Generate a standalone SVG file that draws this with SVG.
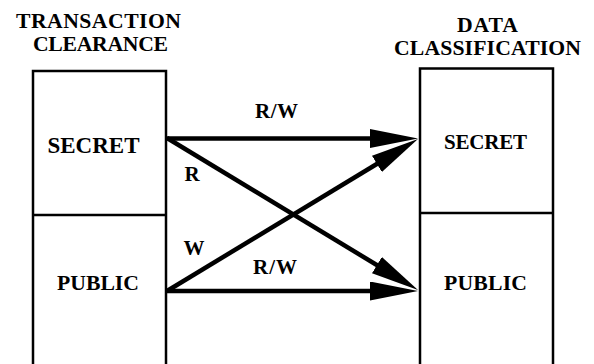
<svg xmlns="http://www.w3.org/2000/svg" width="594" height="364" viewBox="0 0 594 364">
<style>
.box{fill:#fff;stroke:#000;stroke-width:2.5}
.div{stroke:#000;stroke-width:2.5}
.t{font-family:"Liberation Serif","Times New Roman",serif;font-weight:bold;fill:#000}
.title{font-size:21.7px}
.lbl{font-size:21.7px}
.el{font-size:21px}
.conn{stroke:#000;stroke-width:4.5;fill:none}
</style>
<defs>
<marker id="ah" markerUnits="userSpaceOnUse" markerWidth="48" markerHeight="19" viewBox="0 0 48 19" refX="23" refY="9.5" orient="auto">
<path d="M0,0 L48,9.5 L0,19 Z" fill="#000"/>
</marker>
</defs>
<rect width="594" height="364" fill="#fff"/>
<g id="transaction-clearance">
<text class="t title" x="98.5" y="28" text-anchor="middle" textLength="165">TRANSACTION</text>
<text class="t title" x="100.5" y="50.5" text-anchor="middle" textLength="135">CLEARANCE</text>
<rect class="box" x="33" y="71" width="133" height="300"/>
</g>
<g id="tc-secret">
<line class="div" x1="33" y1="215" x2="166" y2="215"/>
<text class="t lbl" x="93.5" y="153" text-anchor="middle" textLength="92" style="font-size:23px">SECRET</text>
</g>
<g id="tc-public">
<text class="t lbl" x="98" y="290" text-anchor="middle" textLength="82">PUBLIC</text>
</g>
<g id="data-classification">
<text class="t title" x="487.5" y="32" text-anchor="middle" textLength="61">DATA</text>
<text class="t title" x="487.5" y="55" text-anchor="middle" textLength="187">CLASSIFICATION</text>
<rect class="box" x="420" y="68.5" width="133" height="300"/>
</g>
<g id="dc-secret">
<line class="div" x1="420" y1="213" x2="553" y2="213"/>
<text class="t lbl" x="485.5" y="149" text-anchor="middle" textLength="83" style="font-size:21px">SECRET</text>
</g>
<g id="dc-public">
<text class="t lbl" x="485.5" y="290" text-anchor="middle" textLength="83">PUBLIC</text>
</g>
<g id="connectors">
<line class="conn" x1="167" y1="138.5" x2="393" y2="138.5" marker-end="url(#ah)"/>
<line class="conn" x1="167" y1="291" x2="393" y2="291" marker-end="url(#ah)"/>
<line class="conn" x1="167" y1="138" x2="396.6" y2="277" marker-end="url(#ah)"/>
<line class="conn" x1="167" y1="291" x2="396.6" y2="152" marker-end="url(#ah)"/>
<text class="t el" x="276.5" y="118" text-anchor="middle" textLength="43">R/W</text>
<text class="t el" x="192" y="181" text-anchor="middle">R</text>
<text class="t el" x="194" y="255" text-anchor="middle">W</text>
<text class="t el" x="275" y="274" text-anchor="middle" textLength="44">R/W</text>
</g>
</svg>
